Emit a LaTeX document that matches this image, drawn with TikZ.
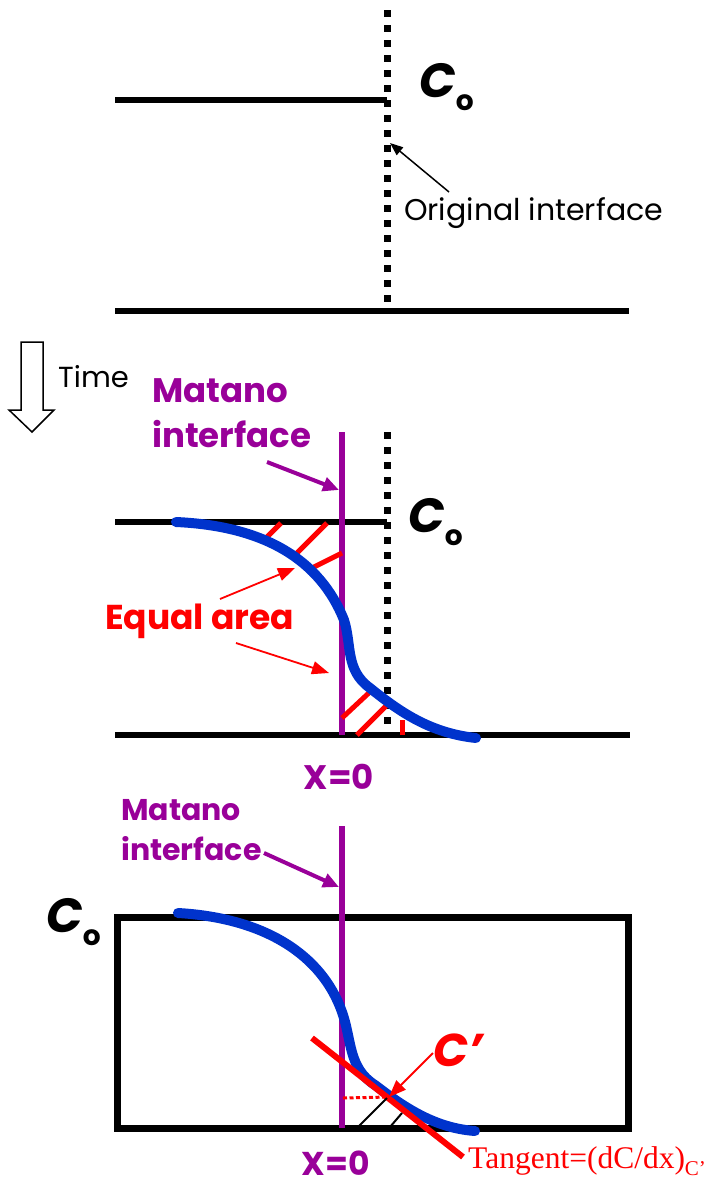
\documentclass[tikz,border=0pt]{standalone}
\usepackage{fontspec}
\setmainfont{Poppins}
\newfontfamily\serifred{Liberation Serif}
\usetikzlibrary{arrows.meta}
\definecolor{MatPurple}{RGB}{153,0,153}
\definecolor{ProfBlue}{RGB}{0,51,204}
\definecolor{AreaRed}{RGB}{255,0,0}
\newcommand{\Czero}{{\fontsize{48}{48}\selectfont\bfseries\itshape C}\raisebox{-13pt}{\fontsize{28}{28}\selectfont\bfseries o}}
\tikzset{
  bar/.style={draw=black,line width=6.5pt},
  orig/.style={draw=black,line width=7pt,dash pattern=on 7pt off 8pt},
  matline/.style={draw=MatPurple,line width=6pt},
  profile/.style={draw=ProfBlue,line width=10pt,line cap=round},
  hatch/.style={draw=AreaRed,line width=5pt},
  redarrow/.style={draw=AreaRed,line width=1.8pt,-{Triangle[length=17pt,width=13pt]}},
  purarrow/.style={draw=MatPurple,line width=4pt,-{Triangle[length=16pt,width=14pt]}},
  blkarrow/.style={draw=black,line width=1.5pt,-{Triangle[length=13pt,width=10pt]}},
}
\tikzset{lab/.style={inner sep=0pt,font=\fontsize{29}{34}\selectfont},
  matlab/.style={inner sep=0pt,text=MatPurple,font=\fontsize{34}{40}\selectfont\bfseries},
  conc/.style={inner sep=0pt}}

\begin{document}
\begin{tikzpicture}[x=1pt,y=-1pt]
\useasboundingbox (0,0) rectangle (714,1186);
% before
\coordinate (ta) at (115,100);
\coordinate (tb) at (387,100);
\coordinate (ba) at (115,311);
\coordinate (bb) at (629,311);
\coordinate (oa) at (387,10);
\coordinate (ob) at (387,304);
\draw[bar] (ta)--(tb);
\draw[bar] (ba)--(bb);
\draw[orig] (oa)--(ob);
\node[conc,anchor=base west] (c1) at (419,97) {\Czero};
\node[lab,anchor=base west,font=\fontsize{30}{34}\selectfont] (orig) at (404,220) {Original interface};
\coordinate (otail) at (449,192);
\coordinate (otip) at (390,143);
\draw[blkarrow] (otail)--(otip);
% time
\draw[line width=1.5pt] (21,342)--(43,342)--(43,410)--(54,410)--(32,432)--(9,410)--(21,410)--cycle;
\node[lab,anchor=base west] (time) at (58,387) {Time};
% after
\node[matlab,anchor=base west] (mat2a) at (152,402) {Matano};
\node[matlab,anchor=base west] (mat2b) at (152,447) {interface};
\coordinate (m2tail) at (267,462);
\coordinate (m2tip) at (339,490);
\draw[purarrow] (m2tail)--(m2tip);
\coordinate (ta2) at (115,522);
\coordinate (tb2) at (387,522);
\coordinate (ba2) at (115,735);
\coordinate (bb2) at (630,735);
\coordinate (x2a) at (342,432);
\coordinate (x2b) at (342,735);
\coordinate (oa2) at (387,432);
\coordinate (ob2) at (387,735);
\draw[bar] (ta2)--(tb2);
\draw[bar] (ba2)--(bb2);
\draw[orig] (oa2)--(ob2);
\draw[matline] (x2a)--(x2b);
\node[conc,anchor=base west] (c2) at (408,532) {\Czero};
\draw[hatch] (267,537)--(281,523);
\draw[hatch] (297,553)--(327,523);
\draw[hatch] (312,568)--(342,553);
\draw[hatch] (342,718)--(372,690);
\draw[hatch] (357,735)--(387,705);
\draw[hatch] (402,720)--(402,735);
\draw[profile] (176,522) .. controls (265,526) and (320,560) .. (344,620)
  .. controls (352,645) and (345,670) .. (370,688)
  .. controls (400,712) and (430,733) .. (476,738);
\node[inner sep=0pt,anchor=base west,text=AreaRed,font=\fontsize{34.5}{40}\selectfont\bfseries] (eq) at (105,629) {Equal area};
\coordinate (ea) at (220,599);
\coordinate (eb) at (295,568);
\coordinate (ec) at (236,643);
\coordinate (ed) at (329,673);
\draw[redarrow] (ea)--(eb);
\draw[redarrow] (ec)--(ed);
\node[inner sep=0pt,text=MatPurple,font=\fontsize{34}{40}\selectfont\bfseries] (x2) at (339,777) {X=0};
% tangent
\node[matlab,anchor=base west,font=\fontsize{30}{34}\selectfont\bfseries] (mat3a) at (121,820) {Matano};
\node[matlab,anchor=base west,font=\fontsize{30}{34}\selectfont\bfseries] (mat3b) at (121,860) {interface};
\coordinate (m3tail) at (264,853);
\coordinate (m3tip) at (339,887);
\draw[purarrow] (m3tail)--(m3tip);
\draw[draw=black,line width=7pt] (117,917) rectangle (628,1128);
\coordinate (x3a) at (342,826);
\coordinate (x3b) at (342,1128);
\draw[matline] (x3a)--(x3b);
\node[conc,anchor=base west] (c3) at (46,932) {\Czero};
\draw[profile] (178,913) .. controls (265,918) and (322,955) .. (342,1012)
  .. controls (352,1040) and (348,1068) .. (375,1085)
  .. controls (405,1108) and (435,1128) .. (475,1131);
\coordinate (tga) at (312,1038);
\coordinate (tgb) at (463,1157);
\draw[draw=AreaRed,line width=6pt] (tga)--(tgb);
\coordinate (cp) at (389,1097);
\draw[draw=AreaRed,line width=3pt,dash pattern=on 4pt off 2.5pt] (343,1098)--(cp);
\draw[line width=2pt] (358,1127)--(387,1098);
\draw[line width=2pt] (390,1127)--(402,1113);
\node[inner sep=0pt,anchor=base west,text=AreaRed,font=\fontsize{46}{46}\selectfont\bfseries\itshape] (cprime) at (433,1066) {C'};
\coordinate (cpa) at (433,1053);
\draw[redarrow] (cpa)--(cp);
\node[inner sep=0pt,anchor=base west,text=AreaRed,font=\serifred\fontsize{31.5}{36}\selectfont] (tang) at (468,1168) {Tangent=(dC/dx)\raisebox{-7pt}{\fontsize{21}{21}\selectfont C’}};
\node[inner sep=0pt,text=MatPurple,font=\fontsize{33}{38}\selectfont\bfseries] (x3) at (336,1163) {X=0};
\end{tikzpicture}
\end{document}
